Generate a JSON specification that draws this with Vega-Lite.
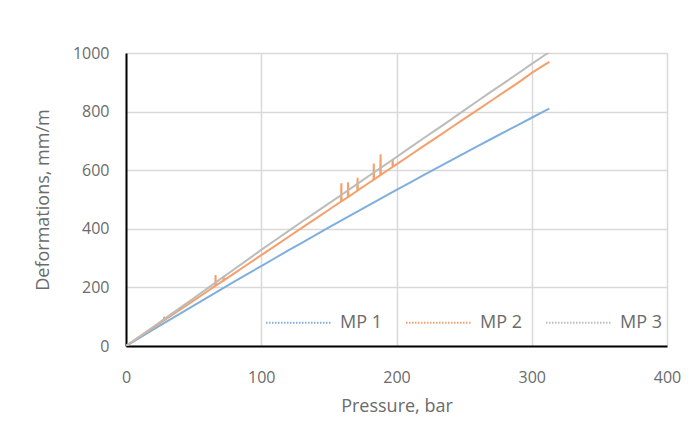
{
  "$schema": "https://vega.github.io/schema/vega-lite/v6.json",
  "width": 541,
  "height": 293,
  "autosize": {"type": "none"},
  "padding": {"left": 126, "top": 53, "right": 26, "bottom": 77},
  "background": "white",
  "config": {
    "view": {"stroke": null},
    "font": "Open Sans",
    "axis": {
      "gridColor": "#d9d9d9",
      "gridWidth": 1.5,
      "domainColor": "#000000",
      "domainWidth": 2,
      "ticks": false,
      "labelColor": "#6b6b6b",
      "labelFontSize": 16,
      "labelFont": "Open Sans",
      "titleColor": "#6b6b6b",
      "titleFontSize": 18,
      "titleFontWeight": "normal",
      "titleFont": "Open Sans"
    }
  },
  "data": {
    "values": [
      {"p": 0, "d": 0, "s": "MP 1"},
      {"p": 10, "d": 27.9, "s": "MP 1"},
      {"p": 20, "d": 55.7, "s": "MP 1"},
      {"p": 30, "d": 83.3, "s": "MP 1"},
      {"p": 40, "d": 110.8, "s": "MP 1"},
      {"p": 50, "d": 138.1, "s": "MP 1"},
      {"p": 60, "d": 165.4, "s": "MP 1"},
      {"p": 70, "d": 192.5, "s": "MP 1"},
      {"p": 80, "d": 219.4, "s": "MP 1"},
      {"p": 90, "d": 246.3, "s": "MP 1"},
      {"p": 100, "d": 273.0, "s": "MP 1"},
      {"p": 110, "d": 299.5, "s": "MP 1"},
      {"p": 120, "d": 326.0, "s": "MP 1"},
      {"p": 130, "d": 352.3, "s": "MP 1"},
      {"p": 140, "d": 378.4, "s": "MP 1"},
      {"p": 150, "d": 404.5, "s": "MP 1"},
      {"p": 160, "d": 430.4, "s": "MP 1"},
      {"p": 170, "d": 456.1, "s": "MP 1"},
      {"p": 180, "d": 481.8, "s": "MP 1"},
      {"p": 190, "d": 507.3, "s": "MP 1"},
      {"p": 200, "d": 532.6, "s": "MP 1"},
      {"p": 210, "d": 557.9, "s": "MP 1"},
      {"p": 220, "d": 583.0, "s": "MP 1"},
      {"p": 230, "d": 608.0, "s": "MP 1"},
      {"p": 240, "d": 632.8, "s": "MP 1"},
      {"p": 250, "d": 657.5, "s": "MP 1"},
      {"p": 260, "d": 682.1, "s": "MP 1"},
      {"p": 270, "d": 706.5, "s": "MP 1"},
      {"p": 280, "d": 730.8, "s": "MP 1"},
      {"p": 290, "d": 755.0, "s": "MP 1"},
      {"p": 300, "d": 779.0, "s": "MP 1"},
      {"p": 310, "d": 803.0, "s": "MP 1"},
      {"p": 313, "d": 810.1, "s": "MP 1"},

      {"p": 0, "d": 0, "s": "MP 2"},
      {"p": 10, "d": 31, "s": "MP 2"},
      {"p": 20, "d": 62, "s": "MP 2"},
      {"p": 28, "d": 87, "s": "MP 2"},
      {"p": 28.2, "d": 100, "s": "MP 2"},
      {"p": 28.4, "d": 88, "s": "MP 2"},
      {"p": 30, "d": 93, "s": "MP 2"},
      {"p": 40, "d": 124, "s": "MP 2"},
      {"p": 50, "d": 155, "s": "MP 2"},
      {"p": 60, "d": 186, "s": "MP 2"},
      {"p": 66, "d": 205, "s": "MP 2"},
      {"p": 66.2, "d": 242, "s": "MP 2"},
      {"p": 66.4, "d": 206, "s": "MP 2"},
      {"p": 70, "d": 217, "s": "MP 2"},
      {"p": 72, "d": 223, "s": "MP 2"},
      {"p": 72.2, "d": 239, "s": "MP 2"},
      {"p": 72.4, "d": 224, "s": "MP 2"},
      {"p": 80, "d": 248, "s": "MP 2"},
      {"p": 90, "d": 279, "s": "MP 2"},
      {"p": 100, "d": 310, "s": "MP 2"},
      {"p": 110, "d": 341, "s": "MP 2"},
      {"p": 120, "d": 372, "s": "MP 2"},
      {"p": 130, "d": 403, "s": "MP 2"},
      {"p": 140, "d": 434, "s": "MP 2"},
      {"p": 150, "d": 465, "s": "MP 2"},
      {"p": 159, "d": 493, "s": "MP 2"},
      {"p": 159.2, "d": 555, "s": "MP 2"},
      {"p": 159.4, "d": 494, "s": "MP 2"},
      {"p": 164, "d": 508, "s": "MP 2"},
      {"p": 164.2, "d": 559, "s": "MP 2"},
      {"p": 164.4, "d": 509, "s": "MP 2"},
      {"p": 171, "d": 530, "s": "MP 2"},
      {"p": 171.2, "d": 574, "s": "MP 2"},
      {"p": 171.4, "d": 531, "s": "MP 2"},
      {"p": 180, "d": 558, "s": "MP 2"},
      {"p": 183, "d": 567, "s": "MP 2"},
      {"p": 183.2, "d": 623, "s": "MP 2"},
      {"p": 183.4, "d": 568, "s": "MP 2"},
      {"p": 188, "d": 583, "s": "MP 2"},
      {"p": 188.2, "d": 654, "s": "MP 2"},
      {"p": 188.4, "d": 584, "s": "MP 2"},
      {"p": 197, "d": 611, "s": "MP 2"},
      {"p": 197.2, "d": 635, "s": "MP 2"},
      {"p": 197.4, "d": 612, "s": "MP 2"},
      {"p": 200, "d": 620, "s": "MP 2"},
      {"p": 210, "d": 651, "s": "MP 2"},
      {"p": 220, "d": 682, "s": "MP 2"},
      {"p": 230, "d": 713, "s": "MP 2"},
      {"p": 240, "d": 744, "s": "MP 2"},
      {"p": 250, "d": 775, "s": "MP 2"},
      {"p": 260, "d": 806, "s": "MP 2"},
      {"p": 270, "d": 837, "s": "MP 2"},
      {"p": 280, "d": 868, "s": "MP 2"},
      {"p": 290, "d": 899, "s": "MP 2"},
      {"p": 300, "d": 932, "s": "MP 2"},
      {"p": 310, "d": 961, "s": "MP 2"},
      {"p": 313, "d": 970, "s": "MP 2"},

      {"p": 0, "d": 0, "s": "MP 3"},
      {"p": 10, "d": 32.5, "s": "MP 3"},
      {"p": 20, "d": 65, "s": "MP 3"},
      {"p": 30, "d": 97.5, "s": "MP 3"},
      {"p": 40, "d": 130, "s": "MP 3"},
      {"p": 50, "d": 163, "s": "MP 3"},
      {"p": 60, "d": 196, "s": "MP 3"},
      {"p": 70, "d": 229, "s": "MP 3"},
      {"p": 80, "d": 262, "s": "MP 3"},
      {"p": 90, "d": 295, "s": "MP 3"},
      {"p": 100, "d": 328, "s": "MP 3"},
      {"p": 110, "d": 360, "s": "MP 3"},
      {"p": 120, "d": 392, "s": "MP 3"},
      {"p": 130, "d": 424, "s": "MP 3"},
      {"p": 140, "d": 455, "s": "MP 3"},
      {"p": 150, "d": 487, "s": "MP 3"},
      {"p": 160, "d": 518, "s": "MP 3"},
      {"p": 170, "d": 550, "s": "MP 3"},
      {"p": 180, "d": 582, "s": "MP 3"},
      {"p": 190, "d": 613, "s": "MP 3"},
      {"p": 200, "d": 645, "s": "MP 3"},
      {"p": 210, "d": 677, "s": "MP 3"},
      {"p": 220, "d": 709, "s": "MP 3"},
      {"p": 230, "d": 740, "s": "MP 3"},
      {"p": 240, "d": 772, "s": "MP 3"},
      {"p": 250, "d": 804, "s": "MP 3"},
      {"p": 260, "d": 836, "s": "MP 3"},
      {"p": 270, "d": 868, "s": "MP 3"},
      {"p": 280, "d": 899, "s": "MP 3"},
      {"p": 290, "d": 931, "s": "MP 3"},
      {"p": 300, "d": 963, "s": "MP 3"},
      {"p": 310, "d": 994, "s": "MP 3"},
      {"p": 313, "d": 1002, "s": "MP 3"}
    ]
  },
  "mark": {"type": "line", "strokeWidth": 2, "clip": true},
  "encoding": {
    "x": {
      "field": "p",
      "type": "quantitative",
      "title": "Pressure, bar",
      "scale": {"domain": [0, 400], "nice": false},
      "axis": {"values": [0, 100, 200, 300, 400], "format": "d", "labelPadding": 23, "titlePadding": 12, "labelFlush": false}
    },
    "y": {
      "field": "d",
      "type": "quantitative",
      "title": "Deformations, mm/m",
      "scale": {"domain": [0, 1000], "nice": false},
      "axis": {"values": [0, 200, 400, 600, 800, 1000], "format": "d", "labelPadding": 17, "titlePadding": 20, "labelFlush": false}
    },
    "color": {
      "field": "s",
      "type": "nominal",
      "scale": {"domain": ["MP 1", "MP 2", "MP 3"], "range": ["#7fafdf", "#f5a06a", "#bcbcbc"]},
      "legend": {
        "title": null,
        "orient": "none",
        "legendX": 139,
        "legendY": 236,
        "direction": "horizontal",
        "columns": 3,
        "symbolType": "stroke",
        "symbolSize": 4225,
        "symbolStrokeWidth": 2,
        "symbolDash": [1.5, 1.5],
        "labelFontSize": 18,
        "labelColor": "#6b6b6b",
        "labelFont": "Open Sans",
        "labelOffset": 8,
        "columnPadding": 20
      }
    }
  }
}
